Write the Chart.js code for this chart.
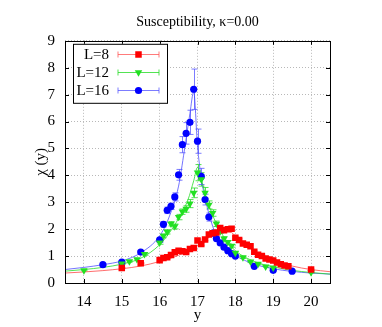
<!DOCTYPE html>
<html>
<head>
<meta charset="utf-8">
<script src="https://cdn.jsdelivr.net/npm/chart.js@4.4.1/dist/chart.umd.min.js"></script>
<style>
html, body { margin: 0; padding: 0; background: #fff; }
</style>
</head>
<body>
<canvas id="chart" width="382" height="327"></canvas>
<script>
// Axis ticks
const xTicks = [14, 15, 16, 17, 18, 19, 20];
const yTicks = [0, 1, 2, 3, 4, 5, 6, 7, 8, 9];

// L=8 data (red squares)
const x8 = [15.0, 15.5, 16.0, 16.1, 16.2, 16.3, 16.4, 16.5, 16.6, 16.7, 16.8, 16.9, 17.0, 17.1, 17.2, 17.3, 17.4, 17.5, 17.6, 17.7, 17.8, 17.9, 18.0, 18.1, 18.2, 18.3, 18.4, 18.5, 18.6, 18.7, 18.8, 18.9, 19.0, 19.1, 19.2, 19.3, 19.4, 20.0];
const y8 = [0.56, 0.73, 0.85, 0.93, 0.96, 1.04, 1.14, 1.2, 1.18, 1.15, 1.26, 1.3, 1.58, 1.45, 1.62, 1.8, 1.85, 1.88, 2.04, 1.96, 2.0, 2.02, 1.68, 1.6, 1.47, 1.42, 1.37, 1.16, 1.05, 1.0, 0.91, 0.87, 0.84, 0.76, 0.7, 0.65, 0.62, 0.5];
const e8 = [0.02, 0.02, 0.03, 0.03, 0.03, 0.03, 0.04, 0.04, 0.04, 0.04, 0.04, 0.05, 0.05, 0.05, 0.05, 0.05, 0.05, 0.05, 0.05, 0.05, 0.05, 0.05, 0.05, 0.04, 0.04, 0.04, 0.04, 0.04, 0.03, 0.03, 0.03, 0.03, 0.03, 0.03, 0.02, 0.02, 0.02, 0.02];

// L=12 data (green triangles)
const x12 = [14.0, 15.0, 15.2, 15.4, 15.6, 16.0, 16.1, 16.2, 16.3, 16.4, 16.5, 16.6, 16.7, 16.8, 16.9, 17.0, 17.1, 17.2, 17.3, 17.4, 17.5, 17.6, 17.7, 17.8, 17.9, 18.0, 18.2, 18.4, 18.6, 18.8, 19.0, 20.0];
const y12 = [0.47, 0.72, 0.8, 0.88, 1.07, 1.5, 1.75, 1.9, 2.2, 2.1, 2.45, 2.65, 2.75, 2.95, 3.35, 4.1, 3.85, 3.35, 2.9, 2.6, 2.2, 1.92, 1.65, 1.52, 1.38, 1.12, 0.95, 0.79, 0.71, 0.61, 0.57, 0.39];
const e12 = [0.02, 0.03, 0.03, 0.03, 0.04, 0.06, 0.07, 0.08, 0.08, 0.09, 0.1, 0.1, 0.12, 0.15, 0.18, 0.3, 0.25, 0.2, 0.15, 0.12, 0.1, 0.08, 0.07, 0.06, 0.05, 0.05, 0.04, 0.03, 0.03, 0.03, 0.02, 0.02];

// L=16 data (blue circles)
const x16 = [14.5, 15.0, 15.5, 16.0, 16.1, 16.2, 16.3, 16.4, 16.5, 16.6, 16.7, 16.8, 16.9, 17.0, 17.1, 17.2, 17.3, 17.4, 17.5, 17.6, 17.7, 17.8, 17.9, 18.0, 18.5, 19.0, 19.5];
const y16 = [0.68, 0.78, 1.15, 1.6, 2.18, 2.7, 2.85, 3.2, 4.02, 5.14, 5.56, 5.97, 7.2, 5.27, 3.96, 3.1, 2.45, 1.85, 1.65, 1.49, 1.33, 1.2, 1.09, 1.0, 0.62, 0.47, 0.44];
const e16 = [0.03, 0.04, 0.05, 0.08, 0.1, 0.12, 0.12, 0.15, 0.2, 0.3, 0.4, 0.45, 0.75, 0.45, 0.3, 0.2, 0.15, 0.1, 0.08, 0.06, 0.05, 0.05, 0.04, 0.04, 0.03, 0.03, 0.02];

// Fitted curves
const cx8 = [13.5, 14.0, 14.5, 15.0, 15.5, 16.0, 16.5, 17.0, 17.3, 17.6, 17.8, 18.0, 18.25, 18.5, 19.0, 19.5, 20.0, 20.5];
const cy8 = [0.37, 0.41, 0.46, 0.53, 0.63, 0.8, 1.03, 1.4, 1.7, 1.95, 1.95, 1.75, 1.45, 1.2, 0.85, 0.63, 0.5, 0.42];
const cx12 = [13.5, 14.0, 14.5, 15.0, 15.5, 16.0, 16.25, 16.5, 16.75, 16.9, 17.0, 17.1, 17.25, 17.5, 17.75, 18.0, 18.5, 19.0, 19.5, 20.0, 20.5];
const cy12 = [0.44, 0.5, 0.58, 0.7, 0.92, 1.42, 1.85, 2.4, 3.1, 3.8, 4.3, 3.85, 3.1, 2.2, 1.6, 1.2, 0.8, 0.6, 0.47, 0.39, 0.33];
const cx16 = [13.5, 14.0, 14.5, 15.0, 15.5, 16.0, 16.25, 16.5, 16.65, 16.8, 16.9, 17.0, 17.1, 17.25, 17.5, 17.75, 18.0, 18.5, 19.0, 19.5, 20.0, 20.5];
const cy16 = [0.5, 0.58, 0.68, 0.82, 1.12, 1.75, 2.45, 3.6, 4.9, 6.3, 7.1, 5.1, 3.9, 2.85, 1.75, 1.28, 1.02, 0.7, 0.53, 0.43, 0.37, 0.33];

const FONT = '"Liberation Serif", "DejaVu Serif", serif';

function toPoints(xs, ys) {
    return xs.map((x, i) => ({ x: x, y: ys[i] }));
}

function curve(xs, ys, color) {
    return {
        data: toPoints(xs, ys),
        showLine: true,
        pointRadius: 0,
        borderColor: color,
        borderWidth: 1,
        cubicInterpolationMode: 'monotone',
        order: 2
    };
}

function series(label, xs, ys, errs, color, barColor, style, radius, rotation) {
    return {
        label: label,
        data: toPoints(xs, ys),
        errors: errs,
        barColor: barColor,
        showLine: false,
        pointStyle: style,
        pointRadius: radius,
        pointRotation: rotation,
        pointBackgroundColor: color,
        pointBorderColor: color,
        pointBorderWidth: 0,
        order: 1
    };
}

// vertical error bars with caps, drawn under the markers
const errorBars = {
    id: 'errorBars',
    beforeDatasetsDraw(chart) {
        const ctx = chart.ctx;
        const xs = chart.scales.x, ys = chart.scales.y;
        chart.data.datasets.forEach(ds => {
            if (!ds.errors) return;
            ctx.save();
            ctx.strokeStyle = ds.barColor;
            ctx.lineWidth = 1;
            ctx.beginPath();
            ds.data.forEach((p, j) => {
                const e = ds.errors[j];
                const px = Math.round(xs.getPixelForValue(p.x)) + 0.5;
                const top = ys.getPixelForValue(p.y + e);
                const bot = ys.getPixelForValue(p.y - e);
                ctx.moveTo(px, top); ctx.lineTo(px, bot);
                ctx.moveTo(px - 3, top); ctx.lineTo(px + 3, top);
                ctx.moveTo(px - 3, bot); ctx.lineTo(px + 3, bot);
            });
            ctx.stroke();
            ctx.restore();
        });
    }
};

// border with inward tick marks on all four sides
const frame = {
    id: 'frame',
    afterDatasetsDraw(chart) {
        const ctx = chart.ctx, a = chart.chartArea;
        const sx = chart.scales.x, sy = chart.scales.y;
        ctx.save();
        ctx.strokeStyle = '#000';
        ctx.lineWidth = 1;
        ctx.strokeRect(Math.round(a.left) + 0.5, Math.round(a.top) + 0.5, Math.round(a.right - a.left), Math.round(a.bottom - a.top));
        ctx.beginPath();
        xTicks.forEach(v => {
            const px = Math.round(sx.getPixelForValue(v)) + 0.5;
            ctx.moveTo(px, a.bottom); ctx.lineTo(px, a.bottom - 4);
            ctx.moveTo(px, a.top); ctx.lineTo(px, a.top + 4);
        });
        yTicks.forEach(v => {
            const py = Math.round(sy.getPixelForValue(v)) + 0.5;
            ctx.moveTo(a.left, py); ctx.lineTo(a.left + 4, py);
            ctx.moveTo(a.right, py); ctx.lineTo(a.right - 4, py);
        });
        ctx.stroke();
        ctx.restore();
    }
};

// gnuplot style key box in the top left corner
const key = {
    id: 'key',
    afterDraw(chart) {
        const ctx = chart.ctx, a = chart.chartArea;
        const items = chart.data.datasets.filter(ds => ds.label);
        const left = a.left + 8, top = a.top + 3, w = 94, rowH = 18;
        const h = items.length * rowH + 5;
        ctx.save();
        ctx.fillStyle = '#fff';
        ctx.fillRect(left, top, w, h);
        ctx.strokeStyle = '#000';
        ctx.lineWidth = 1;
        ctx.strokeRect(left + 0.5, top + 0.5, w, h);
        ctx.font = '15px ' + FONT;
        ctx.textAlign = 'right';
        ctx.textBaseline = 'middle';
        items.forEach((ds, i) => {
            const y = Math.round(top + 10 + i * rowH) + 0.5;
            ctx.fillStyle = '#000';
            ctx.fillText(ds.label, left + 36, y + 1);
            const x0 = left + 45, x1 = left + 86, xm = (x0 + x1) / 2;
            ctx.strokeStyle = ds.barColor;
            ctx.beginPath();
            ctx.moveTo(x0, y); ctx.lineTo(x1, y);
            ctx.moveTo(x0, y - 3); ctx.lineTo(x0, y + 3);
            ctx.moveTo(x1, y - 3); ctx.lineTo(x1, y + 3);
            ctx.stroke();
            ctx.fillStyle = ds.pointBackgroundColor;
            ctx.strokeStyle = ds.pointBackgroundColor;
            Chart.helpers.drawPoint(ctx, {
                pointStyle: ds.pointStyle,
                radius: ds.pointRadius,
                rotation: ds.pointRotation,
                borderWidth: 0
            }, xm, y);
        });
        ctx.restore();
    }
};

const ctx = document.getElementById('chart').getContext('2d');
const chart = new Chart(ctx, {
    type: 'scatter',
    data: {
        datasets: [
            curve(cx8, cy8, 'rgba(255,60,60,0.75)'),
            curve(cx12, cy12, 'rgba(40,220,40,0.8)'),
            curve(cx16, cy16, 'rgba(70,70,255,0.75)'),
            series('L=8', x8, y8, e8, '#ff0000', 'rgba(255,90,90,0.8)', 'rect', 4.6, 0),
            series('L=12', x12, y12, e12, '#22e022', 'rgba(40,220,40,0.8)', 'triangle', 4.3, 180),
            series('L=16', x16, y16, e16, '#0000ff', 'rgba(80,80,255,0.75)', 'circle', 3.6, 0)
        ]
    },
    options: {
        responsive: false,
        animation: false,
        layout: { padding: { left: 0, right: 52, top: 0, bottom: 0 } },
        plugins: {
            legend: { display: false },
            tooltip: { enabled: false },
            title: {
                display: true,
                fullSize: false,
                text: 'Susceptibility, κ=0.00',
                color: '#000',
                font: { family: FONT, size: 14, weight: 'normal' },
                padding: { top: 14, bottom: 10 }
            }
        },
        scales: {
            x: {
                type: 'linear',
                min: 13.5,
                max: 20.5,
                afterBuildTicks(scale) { scale.ticks = xTicks.map(v => ({ value: v })); },
                afterFit(scale) { scale.height = 44; },
                ticks: { color: '#000', padding: 10, font: { family: FONT, size: 15 } },
                grid: { color: '#b8b8b8', drawTicks: false },
                border: { display: false, dash: [1, 2] },
                title: { display: true, text: 'y', color: '#000', font: { family: FONT, size: 15 }, padding: { top: 0, bottom: 3 } }
            },
            y: {
                type: 'linear',
                min: 0,
                max: 9,
                afterBuildTicks(scale) { scale.ticks = yTicks.map(v => ({ value: v })); },
                afterFit(scale) { scale.width = 65; },
                ticks: { color: '#000', padding: 10, font: { family: FONT, size: 15 } },
                grid: { color: '#b8b8b8', drawTicks: false },
                border: { display: false, dash: [1, 2] },
                title: { display: true, text: 'χ (y)', color: '#000', font: { family: FONT, size: 15 }, padding: { top: 32, bottom: 0 } }
            }
        }
    },
    plugins: [errorBars, frame, key]
});
</script>
</body>
</html>
